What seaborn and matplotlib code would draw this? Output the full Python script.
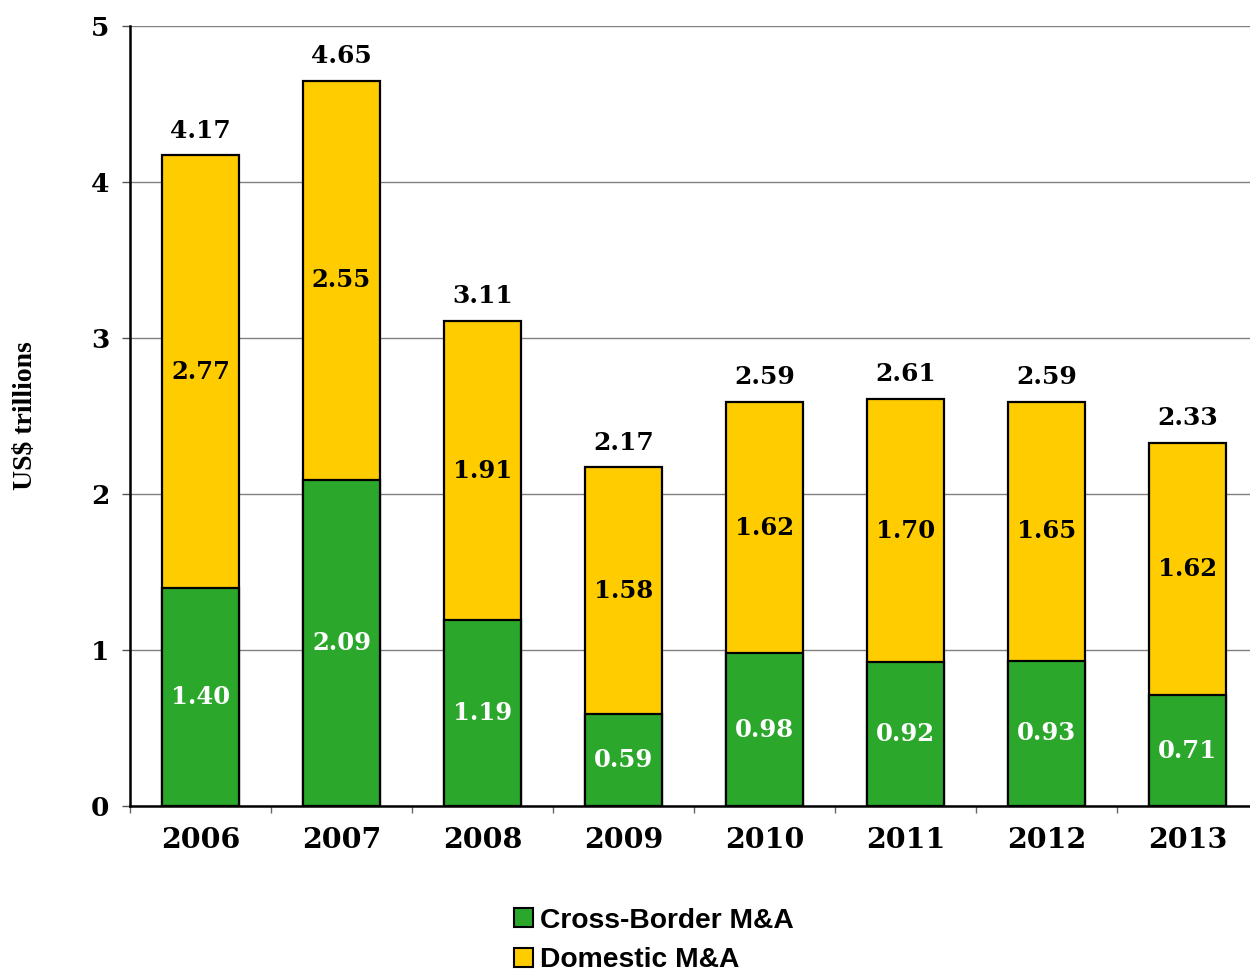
import matplotlib
matplotlib.use("Agg")
import matplotlib.pyplot as plt
from matplotlib.patches import Patch
from matplotlib.ticker import FixedLocator
import seaborn as sns
import pandas as pd

years = ["2006", "2007", "2008", "2009", "2010", "2011", "2012", "2013"]
cross_border = [1.40, 2.09, 1.19, 0.59, 0.98, 0.92, 0.93, 0.71]
domestic = [2.77, 2.55, 1.91, 1.58, 1.62, 1.70, 1.65, 1.62]
totals = [4.17, 4.65, 3.11, 2.17, 2.59, 2.61, 2.59, 2.33]
series_names = ["Cross-Border M&A", "Domestic M&A"]

GREEN = "#2BA82B"
GOLD = "#FFCC00"
SERIF = "DejaVu Serif"

sns.set_theme(style="white")
plt.rcParams["font.family"] = ["DejaVu Serif"]
plt.rcParams["text.color"] = "black"
plt.rcParams["xtick.color"] = "black"
plt.rcParams["ytick.color"] = "black"
plt.rcParams["axes.labelcolor"] = "black"

df = pd.DataFrame({"year": years, "cross": cross_border,
                   "domestic": domestic, "total": totals})

fig = plt.figure(figsize=(12.5, 9.74), dpi=100)
ax = fig.add_axes([0.104, 0.1725, 0.9024, 0.8008])

# Stacked bars: full stack (total) in gold, cross-border drawn over the bottom part
sns.barplot(data=df, x="year", y="total", color=GOLD, saturation=1,
            width=0.54, edgecolor="black", linewidth=1.6, ax=ax, zorder=3)
sns.barplot(data=df, x="year", y="cross", color=GREEN, saturation=1,
            width=0.54, edgecolor="black", linewidth=1.6, ax=ax, zorder=4)

ax.set_xlim(-0.5, len(years) - 0.5)
ax.set_ylim(0, 5)
ax.set_yticks(range(0, 6))
ax.yaxis.grid(True, color="#808080", linewidth=1.0, zorder=0)
ax.xaxis.grid(False)
ax.set_axisbelow(True)

for side in ("top", "right"):
    ax.spines[side].set_visible(False)
for side in ("left", "bottom"):
    ax.spines[side].set_color("black")
    ax.spines[side].set_linewidth(1.8)
    ax.spines[side].set_zorder(5)

ax.tick_params(axis="y", which="major", direction="out", length=6, width=1.0,
               color="#555555", labelcolor="black", pad=9, left=True, labelsize=19)
ax.tick_params(axis="x", which="major", length=0, pad=15, labelsize=20.5,
               labelcolor="black")
ax.xaxis.set_minor_locator(FixedLocator([i - 0.5 for i in range(len(years) + 1)]))
ax.tick_params(axis="x", which="minor", direction="out", length=5, width=1.0,
               color="#666666", bottom=True)
for lab in ax.get_xticklabels() + ax.get_yticklabels():
    lab.set_fontweight("bold")
    lab.set_family(SERIF)

ax.set_xlabel("")
ax.set_ylabel("US$ trillions", family="Liberation Serif", fontweight="bold",
              fontsize=20, labelpad=38, color="black")

# Segment and total labels
for i, (c, d, t) in enumerate(zip(cross_border, domestic, totals)):
    ax.text(i, c / 2, f"{c:.2f}", ha="center", va="center", color="white",
            fontsize=17.5, fontweight="bold", family=SERIF, zorder=6)
    ax.text(i, c + (t - c) / 2, f"{d:.2f}", ha="center", va="center",
            color="black", fontsize=17.5, fontweight="bold", family=SERIF, zorder=6)
    ax.annotate(f"{t:.2f}", xy=(i, t), xytext=(0, 9),
                textcoords="offset points", ha="center", va="bottom",
                color="black", fontsize=18, fontweight="bold", family=SERIF,
                zorder=6)

handles = [Patch(facecolor=GREEN, edgecolor="black", linewidth=1.5),
           Patch(facecolor=GOLD, edgecolor="black", linewidth=1.5)]
leg = fig.legend(handles, series_names, loc="upper left",
                 bbox_to_anchor=(0.4115, 0.068), frameon=False, ncol=1,
                 prop={"family": "Liberation Sans", "weight": "bold", "size": 20.3},
                 handlelength=0.65, handleheight=0.65, handletextpad=0.25,
                 labelspacing=0.48, borderaxespad=0, borderpad=0)
for txt in leg.get_texts():
    txt.set_color("black")

fig.savefig("out.png", dpi=100)
